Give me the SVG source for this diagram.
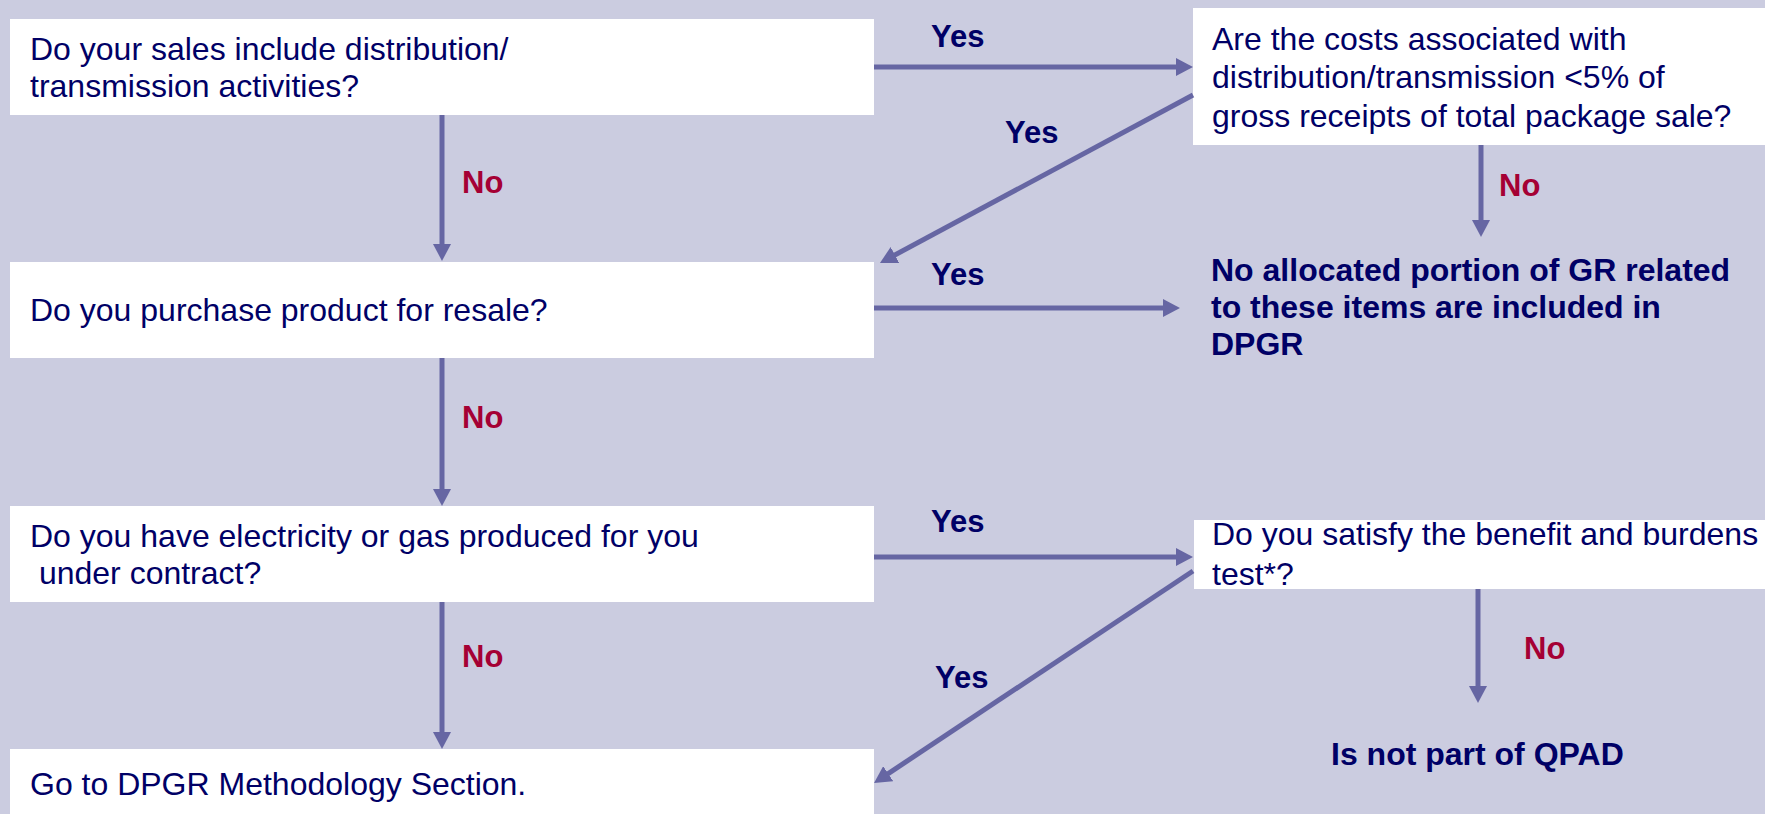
<svg xmlns="http://www.w3.org/2000/svg" width="1765" height="814" viewBox="0 0 1765 814">
<style>
.bg{fill:#CBCCE0}
.box{fill:#FFFFFF}
.q{font-family:"Liberation Sans",Arial,sans-serif;font-size:32px;fill:#000066}
.r{font-family:"Liberation Sans",Arial,sans-serif;font-size:32px;font-weight:bold;fill:#000066}
.yes{font-family:"Liberation Sans",Arial,sans-serif;font-size:31px;font-weight:bold;fill:#000066}
.no{font-family:"Liberation Sans",Arial,sans-serif;font-size:31px;font-weight:bold;fill:#A50034}
.ln{stroke:#6666A3;stroke-width:5;fill:none}
</style>
<defs>
<marker id="ah" markerUnits="userSpaceOnUse" markerWidth="17" markerHeight="18" refX="9" refY="9" orient="auto">
<path d="M0,0 L17,9 L0,18 z" fill="#6666A3"/>
</marker>
</defs>
<rect class="bg" x="0" y="0" width="1765" height="814"/>

<g id="n-sales">
<rect class="box" x="10" y="19" width="864" height="96"/>
<text class="q" x="30" y="60">Do your sales include distribution/</text>
<text class="q" x="30" y="97">transmission activities?</text>
</g>
<g id="n-purchase">
<rect class="box" x="10" y="262" width="864" height="96"/>
<text class="q" x="30" y="321">Do you purchase product for resale?</text>
</g>
<g id="n-contract">
<rect class="box" x="10" y="506" width="864" height="96"/>
<text class="q" x="30" y="547">Do you have electricity or gas produced for you</text>
<text class="q" x="30" y="584" xml:space="preserve"> under contract?</text>
</g>
<g id="n-goto">
<rect class="box" x="10" y="749" width="864" height="70"/>
<text class="q" x="30" y="795">Go to DPGR Methodology Section.</text>
</g>
<g id="n-costs">
<rect class="box" x="1193" y="8" width="572" height="137"/>
<text class="q" x="1212" y="50">Are the costs associated with</text>
<text class="q" x="1212" y="88">distribution/transmission &lt;5% of</text>
<text class="q" x="1212" y="127">gross receipts of total package sale?</text>
</g>
<g id="n-noalloc">
<text class="r" x="1211" y="281">No allocated portion of GR related</text>
<text class="r" x="1211" y="318">to these items are included in</text>
<text class="r" x="1211" y="355">DPGR</text>
</g>
<g id="n-benefit">
<rect class="box" x="1194" y="520" width="571" height="69"/>
<text class="q" x="1212" y="545">Do you satisfy the benefit and burdens</text>
<text class="q" x="1212" y="585">test*?</text>
</g>
<g id="n-notqpad">
<text class="r" x="1331" y="765">Is not part of QPAD</text>
</g>

<g id="connectors">
<line class="ln" x1="442" y1="115" x2="442" y2="253" marker-end="url(#ah)"/>
<line class="ln" x1="442" y1="358" x2="442" y2="498" marker-end="url(#ah)"/>
<line class="ln" x1="442" y1="602" x2="442" y2="741" marker-end="url(#ah)"/>
<line class="ln" x1="874" y1="67" x2="1185" y2="67" marker-end="url(#ah)"/>
<line class="ln" x1="874" y1="308" x2="1172" y2="308" marker-end="url(#ah)"/>
<line class="ln" x1="874" y1="557" x2="1185" y2="557" marker-end="url(#ah)"/>
<line class="ln" x1="1193" y1="95" x2="887" y2="259.2" marker-end="url(#ah)"/>
<line class="ln" x1="1193" y1="571" x2="880.7" y2="778.6" marker-end="url(#ah)"/>
<line class="ln" x1="1481" y1="145" x2="1481" y2="229" marker-end="url(#ah)"/>
<line class="ln" x1="1478" y1="589" x2="1478" y2="695" marker-end="url(#ah)"/>
<text class="yes" x="931" y="47">Yes</text>
<text class="yes" x="1005" y="143">Yes</text>
<text class="yes" x="931" y="285">Yes</text>
<text class="yes" x="931" y="532">Yes</text>
<text class="yes" x="935" y="688">Yes</text>
<text class="no" x="462" y="193">No</text>
<text class="no" x="462" y="428">No</text>
<text class="no" x="462" y="667">No</text>
<text class="no" x="1499" y="196">No</text>
<text class="no" x="1524" y="659">No</text>
</g>
</svg>
